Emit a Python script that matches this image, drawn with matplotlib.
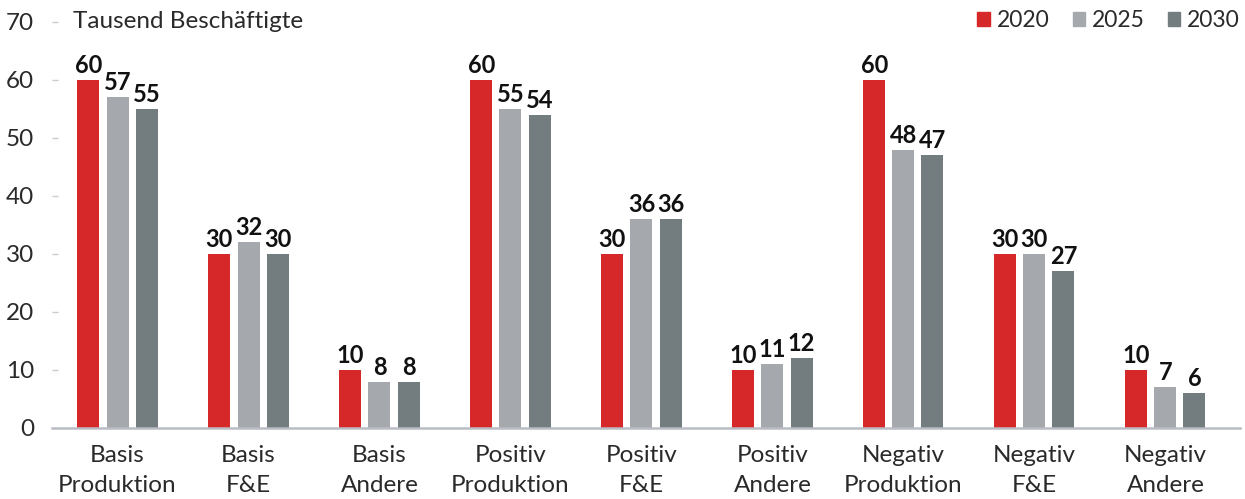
import matplotlib
matplotlib.use("Agg")
from matplotlib import pyplot as plt
from matplotlib.patches import Patch
import numpy as np

categories = ["Basis\nProduktion", "Basis\nF&E", "Basis\nAndere",
              "Positiv\nProduktion", "Positiv\nF&E", "Positiv\nAndere",
              "Negativ\nProduktion", "Negativ\nF&E", "Negativ\nAndere"]
years = ["2020", "2025", "2030"]
values_2020 = [60, 30, 10, 60, 30, 10, 60, 30, 10]
values_2025 = [57, 32, 8, 55, 36, 11, 48, 30, 7]
values_2030 = [55, 30, 8, 54, 36, 12, 47, 27, 6]

COLORS = ["#D62828", "#A5A9AE", "#737C7E"]
TEXT = "#2a2a2a"


def main():
  plt.rcParams["font.family"] = ["Lato", "DejaVu Sans"]
  plt.rcParams["font.size"] = 17.5

  fig = plt.figure(figsize=(12.45, 4.99), dpi=100)
  ax = fig.add_axes([0.0418, 0.1423, 0.9542, 0.8137])

  x = np.arange(len(categories))
  step = 0.222
  width = 0.168
  series = [values_2020, values_2025, values_2030]

  for i, vals in enumerate(series):
    pos = x + (i - 1) * step
    bars = ax.bar(pos, vals, width, color=COLORS[i], zorder=2)
    for b, v in zip(bars, vals):
      ax.text(b.get_x() + b.get_width() / 2, v + 0.5, str(v),
              ha="center", va="bottom", fontweight="bold",
              fontsize=17, color="#111111")

  ax.set_xlim(-0.5, 8.57)
  ax.set_ylim(0, 70)
  ax.set_yticks(range(0, 71, 10))
  ax.set_xticks(x)
  ax.set_xticklabels(categories, color=TEXT, linespacing=1.55)

  for s in ["top", "right", "left"]:
    ax.spines[s].set_visible(False)
  ax.spines["bottom"].set_color("#B9BDC3")
  ax.spines["bottom"].set_linewidth(1.8)

  ax.tick_params(axis="y", direction="in", length=4, width=1,
                 color="#C8CBCF", pad=13, labelcolor=TEXT)
  ax.tick_params(axis="x", length=0, pad=12)

  ax.text(0.018, 70, "Tausend Beschäftigte", ha="left", va="center",
          color=TEXT, transform=ax.get_yaxis_transform())

  handles = [Patch(color=c) for c in COLORS]
  leg = ax.legend(handles, years, loc="upper right", ncol=3, frameon=False,
                  bbox_to_anchor=(1.0, 1.03), handlelength=0.55, handleheight=0.55,
                  handletextpad=0.3, columnspacing=1.0, borderaxespad=0,
                  borderpad=0, fontsize=16.5)
  for t in leg.get_texts():
    t.set_color(TEXT)

  fig.savefig("out.png", dpi=100)


if __name__ == "__main__":
  main()
